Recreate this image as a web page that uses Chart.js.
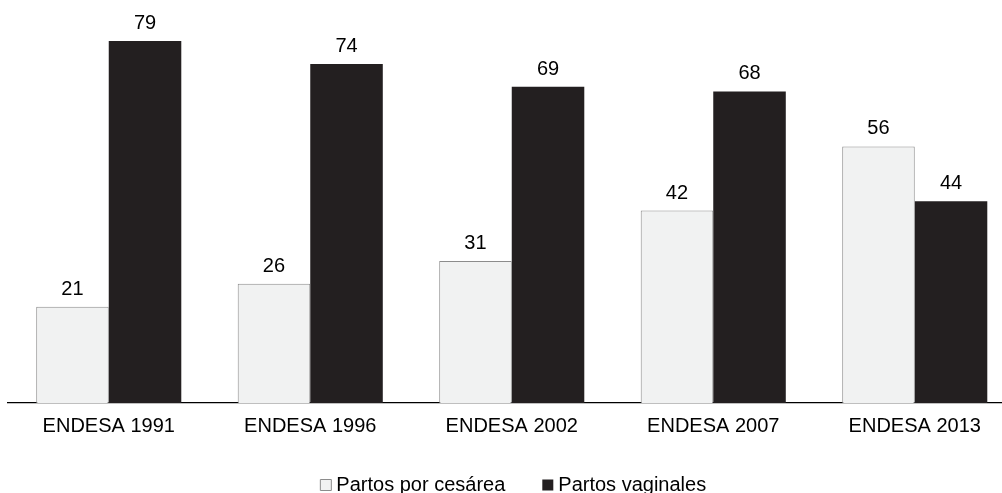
<!DOCTYPE html>
<html>
<head>
<meta charset="utf-8">
<script src="https://cdn.jsdelivr.net/npm/chart.js@4/dist/chart.umd.min.js"></script>
<style>
  html, body { margin: 0; padding: 0; background: #ffffff; overflow: hidden; width: 1002px; height: 493px; }
  #wrap { width: 1034px; height: 493px; position: relative; }
</style>
</head>
<body>
<div id="wrap"><canvas id="c"></canvas></div>
<script>
const categories = ['ENDESA 1991', 'ENDESA 1996', 'ENDESA 2002', 'ENDESA 2007', 'ENDESA 2013'];
const cesarea = [21, 26, 31, 42, 56];
const vaginales = [79, 74, 69, 68, 44];
const seriesNames = ['Partos por cesárea', 'Partos vaginales'];

const FONT = "'Liberation Sans', Arial, sans-serif";

const valueLabels = {
  id: 'valueLabels',
  afterDatasetsDraw(chart) {
    const ctx = chart.ctx;
    ctx.save();
    ctx.font = '20px ' + FONT;
    ctx.fillStyle = '#000000';
    ctx.textAlign = 'center';
    ctx.textBaseline = 'alphabetic';
    chart.data.datasets.forEach((ds, di) => {
      const meta = chart.getDatasetMeta(di);
      meta.data.forEach((bar, i) => {
        ctx.fillText(String(ds.data[i]), bar.x, bar.y - 12);
      });
    });
    ctx.restore();
  }
};

const legendShift = {
  id: 'legendShift',
  afterLayout(chart) {
    const lg = chart.legend;
    if (lg) { lg.left += 4; lg.right += 4; lg.top -= 16; lg.bottom -= 16; }
  }
};

new Chart(document.getElementById('c'), {
  type: 'bar',
  data: {
    labels: categories,
    datasets: [
      {
        label: seriesNames[0],
        data: cesarea,
        backgroundColor: '#f1f2f2',
        borderColor: '#8c8c8c',
        borderWidth: 1,
        borderSkipped: 'bottom'
      },
      {
        label: seriesNames[1],
        data: vaginales,
        backgroundColor: '#231f20',
        borderColor: '#231f20',
        borderWidth: 0
      }
    ]
  },
  options: {
    responsive: true,
    maintainAspectRatio: false,
    animation: false,
    layout: { padding: { left: 8, right: 18.5, top: 36.4, bottom: -28 } },
    datasets: { bar: { barPercentage: 1.0, categoryPercentage: 0.72 } },
    scales: {
      x: {
        grid: { display: false, drawTicks: false },
        border: { display: true, color: '#000000', width: 1.2 },
        ticks: { color: '#000000', font: { family: FONT, size: 20 }, padding: 11, maxRotation: 0 }
      },
      y: {
        display: false,
        min: 0,
        max: 80
      }
    },
    plugins: {
      legend: {
        position: 'bottom',
        labels: {
          color: '#000000',
          font: { family: FONT, size: 20 },
          usePointStyle: true,
          pointStyle: 'rect',
          boxWidth: 1,
          boxHeight: 11,
          padding: 42
        }
      },
      tooltip: { enabled: false }
    }
  },
  plugins: [valueLabels, legendShift]
});
</script>
</body>
</html>
